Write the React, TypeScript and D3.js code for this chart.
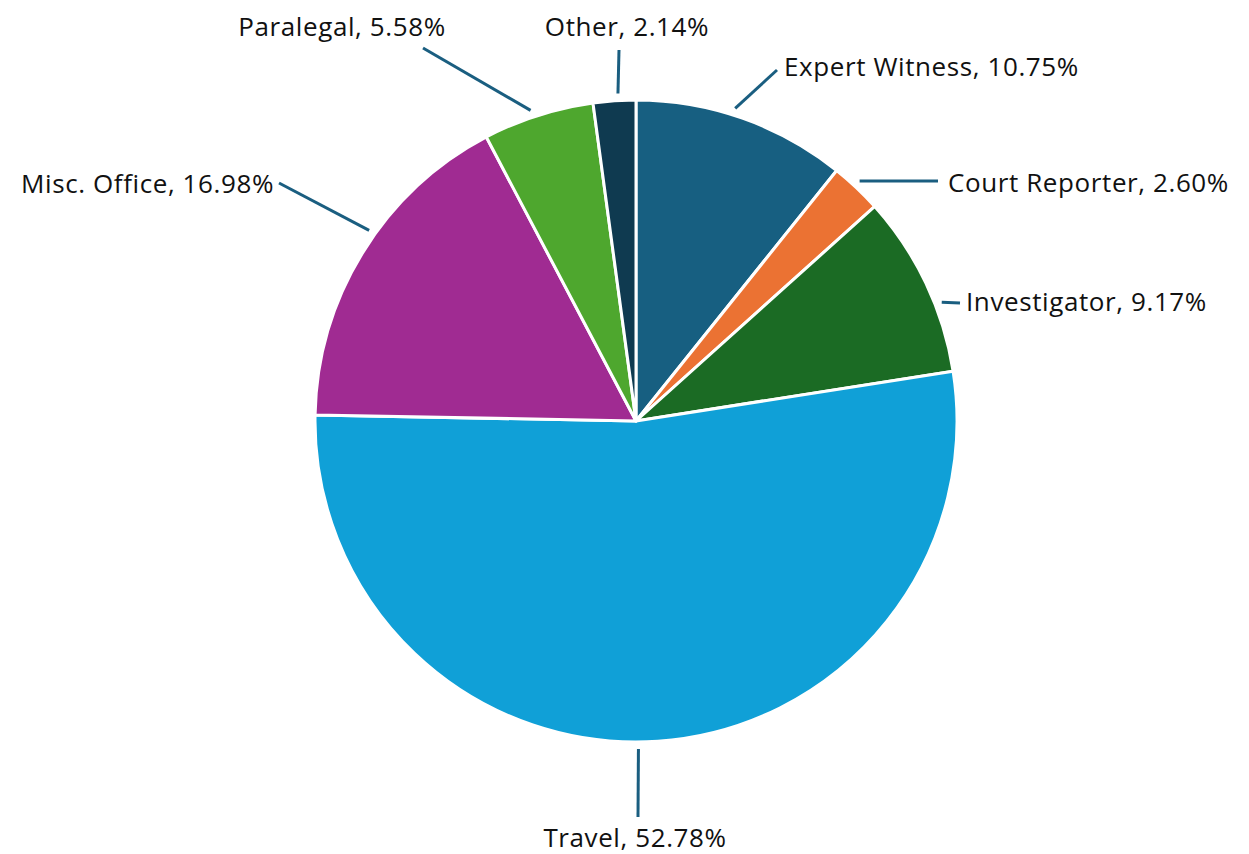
import React from 'react';
import * as d3 from 'd3';

// Expense breakdown, clockwise from 12 o'clock
const categories = ['Expert Witness', 'Court Reporter', 'Investigator', 'Travel', 'Misc. Office', 'Paralegal', 'Other'];
const shares = [10.75, 2.6, 9.17, 52.78, 16.98, 5.58, 2.14];
const sliceColors = ['#175f81', '#eb7233', '#1b6b24', '#10a0d7', '#a02b92', '#4ea72e', '#0f3a50'];

// Label layout (offsets from pie centre) and leader line attach tweaks, in degrees
const labelLayout = [
  { tx: 148, ty: -354, anchor: 'start', ex: 141, ey: -351, dAngle: -1.75 },
  { tx: 312, ty: -238, anchor: 'start', ex: 302, ey: -240, dAngle: -0.4 },
  { tx: 330, ty: -119, anchor: 'start', ex: 324, ey: -118, dAngle: 4.2 },
  { tx: -1, ty: 417, anchor: 'middle', ex: 2, ey: 396, dAngle: 3.5 },
  { tx: -362, ty: -237, anchor: 'end', ex: -357, ey: -238, dAngle: 3.9 },
  { tx: -294, ty: -394, anchor: 'middle', ex: -213, ey: -373, dAngle: -1 },
  { tx: -9, ty: -394, anchor: 'middle', ex: -17, ey: -371, dAngle: 0.7 },
];

const W = 1249;
const H = 854;
const cx = 636;
const cy = 421;
const radius = 321;

export default function App() {
  const pie = d3.pie<number>().sort(null).value((d) => d);
  const arcs = pie(shares);
  const arcGen = d3.arc<d3.PieArcDatum<number>>().innerRadius(0).outerRadius(radius);

  return (
    <svg width={W} height={H} style={{ position: 'absolute', left: 0, top: 0 }}>
      <rect width={W} height={H} fill="#ffffff" />
      <g transform={`translate(${cx},${cy})`}>
        {arcs.map((a, i) => (
          <path key={categories[i]} d={arcGen(a) || ''} fill={sliceColors[i]} stroke="#ffffff" strokeWidth={3} strokeLinejoin="round" />
        ))}
        {arcs.map((a, i) => {
          const L = labelLayout[i];
          const ang = (a.startAngle + a.endAngle) / 2 + (L.dAngle * Math.PI) / 180;
          const r0 = radius + 7;
          const sx = r0 * Math.sin(ang);
          const sy = -r0 * Math.cos(ang);
          return (
            <g key={`lab-${categories[i]}`}>
              <line x1={sx} y1={sy} x2={L.ex} y2={L.ey} stroke="#1a5e80" strokeWidth={3} />
              <text
                x={L.tx}
                y={L.ty + 9}
                textAnchor={L.anchor as any}
                fontFamily="'Open Sans', sans-serif"
                fontSize={26}
                letterSpacing={0.6}
                fill="#111111"
              >
                {`${categories[i]}, ${d3.format('.2f')(shares[i])}%`}
              </text>
            </g>
          );
        })}
      </g>
    </svg>
  );
}
